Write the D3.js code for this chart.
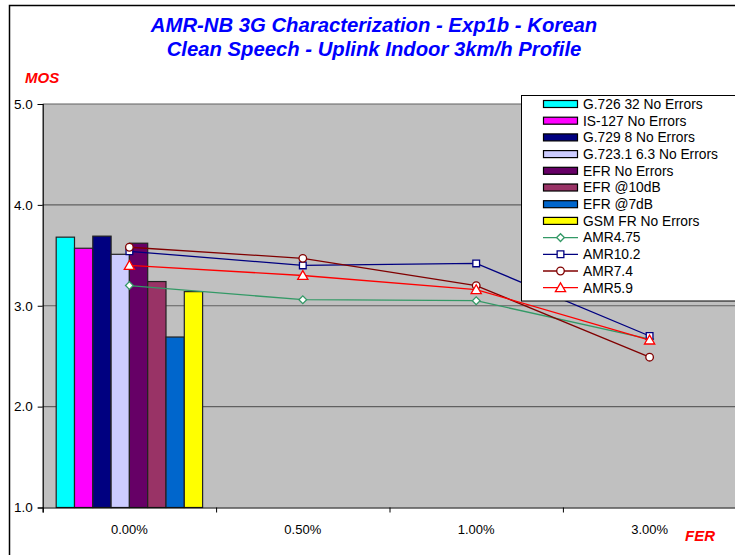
<!DOCTYPE html>
<html><head><meta charset="utf-8">
<script src="https://cdn.jsdelivr.net/npm/d3@7"></script>
<style>body{margin:0;background:#fff;} svg{display:block;font-family:"Liberation Sans",Arial,sans-serif;}</style>
</head><body>
<svg id="c" width="735" height="555"></svg>
<script>
const categories = ["0.00%", "0.50%", "1.00%", "3.00%"];
const barSeries = ["G.726 32 No Errors", "IS-127 No Errors", "G.729 8 No Errors", "G.723.1 6.3 No Errors", "EFR No Errors", "EFR @10dB", "EFR @7dB", "GSM FR No Errors"];
const barValues = [3.68, 3.57, 3.69, 3.51, 3.62, 3.24, 2.69, 3.14];
const barColors = ["#00FFFF", "#FF00FF", "#000080", "#CCCCFF", "#660066", "#993366", "#0066CC", "#FFFF00"];
const lineSeries = ["AMR4.75", "AMR10.2", "AMR7.4", "AMR5.9"];
const amr475 = [3.20, 3.06, 3.05, 2.67];
const amr102 = [3.54, 3.40, 3.42, 2.70];
const amr74 = [3.58, 3.47, 3.20, 2.49];
const amr59 = [3.40, 3.30, 3.16, 2.66];
const lineColors = ["#339966", "#000080", "#800000", "#FF0000"];
const lineMarkers = ["diamond", "square", "circle", "triangle"];
const yTicks = [1, 2, 3, 4, 5];
const titleLines = ["AMR-NB 3G Characterization - Exp1b - Korean", "Clean Speech - Uplink Indoor 3km/h Profile"];

const lineData = [amr475, amr102, amr74, amr59];
const svg = d3.select("#c");

// outer chart border
svg.append("rect").attr("x", 9.5).attr("y", 5.5).attr("width", 800).attr("height", 700)
  .attr("fill", "#fff").attr("stroke", "#000").attr("stroke-width", 1.5);

const L = 42.7, R = 736.3, T = 104, B = 507.5;
const x = d3.scaleBand().domain(categories).range([L, R]).padding(0);
const xb = d3.scaleBand().domain(barSeries).range([13.5, x.bandwidth() - 13.5]).padding(0);
const y = d3.scaleLinear().domain([1, 5]).range([B, T]);

// plot area
svg.append("rect").attr("x", L).attr("y", T).attr("width", R - L).attr("height", B - T).attr("fill", "#C0C0C0");
svg.append("g").selectAll("line").data(yTicks.slice(1)).join("line")
  .attr("x1", L).attr("x2", R).attr("y1", d => y(d)).attr("y2", d => y(d))
  .attr("stroke", "#606060").attr("stroke-width", 1.2);

// bars
svg.append("g").selectAll("rect").data(barValues).join("rect")
  .attr("x", (d, i) => x(categories[0]) + xb(barSeries[i]))
  .attr("y", d => y(d))
  .attr("width", xb.bandwidth())
  .attr("height", d => y(1) - y(d))
  .attr("fill", (d, i) => barColors[i])
  .attr("stroke", "#222").attr("stroke-width", 1.2);

// axes
const yAxis = svg.append("g").attr("transform", `translate(${L},0)`)
  .call(d3.axisLeft(y).tickValues(yTicks).tickFormat(d3.format(".1f")).tickSize(5).tickPadding(5));
yAxis.select(".domain").attr("stroke", "#000").attr("stroke-width", 1.2);
yAxis.selectAll("text").attr("font-size", 13.5).attr("fill", "#000").attr("font-family", "Liberation Sans, Arial");

const xTickScale = d3.scaleLinear().domain([0, categories.length]).range([L, R]);
const xAxis = svg.append("g").attr("transform", `translate(0,${B})`)
  .call(d3.axisBottom(xTickScale).tickValues(d3.range(categories.length + 1)).tickFormat("").tickSize(5));
xAxis.select(".domain").attr("stroke", "#000").attr("stroke-width", 1.2);
svg.append("g").selectAll("text").data(categories).join("text")
  .attr("x", d => x(d) + x.bandwidth() / 2).attr("y", 533.5)
  .attr("text-anchor", "middle").attr("font-size", 13).text(d => d);

// lines
const sym = { diamond: d3.symbolSquare, square: d3.symbolSquare, circle: d3.symbolCircle, triangle: d3.symbolTriangle };
const symSize = { diamond: 30, square: 45, circle: 45, triangle: 45 };
const rot = m => (m === "diamond" ? " rotate(45)" : "");
const dy = m => (m === "triangle" ? 1 : 0);
const lineGen = d3.line().x((d, i) => x(categories[i]) + x.bandwidth() / 2).y(d => y(d));
lineData.forEach((vals, k) => {
  const m = lineMarkers[k];
  svg.append("path").datum(vals).attr("d", lineGen).attr("fill", "none")
    .attr("stroke", lineColors[k]).attr("stroke-width", 1.3);
  svg.append("g").selectAll("path").data(vals).join("path")
    .attr("transform", (d, i) => `translate(${x(categories[i]) + x.bandwidth() / 2},${y(d) + dy(m)})${rot(m)}`)
    .attr("d", d3.symbol(sym[m], symSize[m]))
    .attr("fill", "#fff").attr("stroke", lineColors[k]).attr("stroke-width", 1.3);
});

// legend
const lg = svg.append("g");
lg.append("rect").attr("x", 521.5).attr("y", 95.5).attr("width", 230).attr("height", 205.5)
  .attr("fill", "#fff").attr("stroke", "#000").attr("stroke-width", 1);
const rowH = 16.7, row0 = 104;
barSeries.forEach((s, i) => {
  const cy = row0 + i * rowH;
  lg.append("rect").attr("x", 543.5).attr("y", cy - 3.5).attr("width", 34).attr("height", 7)
    .attr("fill", barColors[i]).attr("stroke", "#000").attr("stroke-width", 1.2);
  lg.append("text").attr("x", 583).attr("y", cy + 4.8).attr("font-size", 13.8).text(s);
});
lineSeries.forEach((s, k) => {
  const m = lineMarkers[k];
  const cy = row0 + (barSeries.length + k) * rowH;
  lg.append("line").attr("x1", 543).attr("x2", 578).attr("y1", cy).attr("y2", cy)
    .attr("stroke", lineColors[k]).attr("stroke-width", 1.3);
  lg.append("path").attr("transform", `translate(560.5,${cy + dy(m)})${rot(m)}`)
    .attr("d", d3.symbol(sym[m], symSize[m]))
    .attr("fill", "#fff").attr("stroke", lineColors[k]).attr("stroke-width", 1.3);
  lg.append("text").attr("x", 583).attr("y", cy + 4.8).attr("font-size", 13.8).text(s);
});

// titles
svg.append("g").selectAll("text").data(titleLines).join("text")
  .attr("x", 374).attr("y", (d, i) => 32 + i * 24)
  .attr("text-anchor", "middle").attr("font-size", 20.3).attr("font-weight", "bold")
  .attr("font-style", "italic").attr("fill", "#0000FF").text(d => d);

svg.append("text").attr("x", 25).attr("y", 83).attr("font-size", 15).attr("font-weight", "bold")
  .attr("font-style", "italic").attr("fill", "#FF0000").text("MOS");
svg.append("text").attr("x", 685).attr("y", 541).attr("font-size", 15).attr("font-weight", "bold")
  .attr("font-style", "italic").attr("fill", "#FF0000").text("FER");
</script>
</body></html>
